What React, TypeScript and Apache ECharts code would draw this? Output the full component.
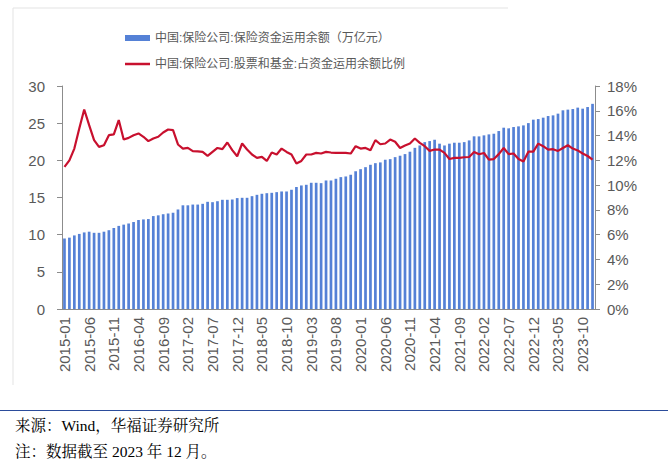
import { useEffect, useRef } from "react";
import * as echarts from "echarts";

// Monthly categories 2015-01 .. 2023-12
const years = [2015, 2016, 2017, 2018, 2019, 2020, 2021, 2022, 2023];
const monthNums = ["01", "02", "03", "04", "05", "06", "07", "08", "09", "10", "11", "12"];
const categories: string[] = years.flatMap((y) => monthNums.map((m) => `${y}-${m}`));

const barName = "中国:保险公司:保险资金运用余额（万亿元）";
const lineName = "中国:保险公司:股票和基金:占资金运用余额比例";

// 保险资金运用余额（万亿元）
const fundBalance = [
  9.5, 9.6, 9.9, 10.1, 10.3, 10.4, 10.25, 10.25, 10.4, 10.6, 10.9, 11.18,
  11.35, 11.5, 11.7, 11.97, 12.05, 12.1, 12.5, 12.6, 12.75, 12.85, 12.95, 13.39,
  13.95, 13.95, 14.05, 14.05, 14.15, 14.42, 14.37, 14.5, 14.69, 14.69, 14.73, 14.92,
  14.96, 14.96, 15.18, 15.36, 15.5, 15.58, 15.63, 15.72, 15.81, 15.81, 16.04, 16.41,
  16.62, 16.71, 16.98, 16.98, 16.93, 17.29, 17.29, 17.52, 17.74, 17.83, 18.06, 18.53,
  18.81, 19.08, 19.4, 19.62, 19.72, 20.08, 20.16, 20.43, 20.62, 20.84, 21.16, 21.68,
  22.0, 22.45, 22.59, 22.77, 22.24, 22.0, 22.24, 22.37, 22.37, 22.45, 22.68, 23.23,
  23.22, 23.36, 23.49, 23.58, 23.94, 24.39, 24.3, 24.48, 24.57, 24.7, 25.01, 25.47,
  25.55, 25.74, 25.96, 26.05, 26.28, 26.73, 26.82, 26.9, 27.09, 26.95, 27.17, 27.6,
];

// 股票和基金占资金运用余额比例（%）
const stockFundRatio = [
  11.47, 12.0, 12.95, 14.57, 16.1, 14.84, 13.63, 13.09, 13.22, 14.03, 14.09, 15.25,
  13.68, 13.81, 14.03, 14.17, 13.9, 13.55, 13.76, 13.9, 14.25, 14.49, 14.44, 13.28,
  12.95, 13.0, 12.74, 12.72, 12.68, 12.36, 12.68, 13.0, 12.9, 13.44, 12.82, 12.33,
  13.36, 12.87, 12.47, 12.2, 12.28, 11.95, 12.63, 12.47, 12.95, 12.68, 12.47, 11.74,
  11.95, 12.47, 12.47, 12.6, 12.55, 12.68, 12.63, 12.6, 12.6, 12.6, 12.55, 13.14,
  12.95, 13.0, 12.82, 13.63, 13.3, 13.36, 13.68, 13.5, 13.0, 13.2, 13.36, 13.76,
  13.41, 13.14, 12.76, 12.87, 12.87, 12.6, 12.11, 12.2, 12.2, 12.25, 12.27, 12.68,
  12.49, 12.59, 12.05, 12.1, 12.5, 13.0, 12.5, 12.55, 12.1, 11.9, 12.7, 12.7,
  13.35, 13.14, 12.86, 12.9, 12.76, 13.0, 13.22, 12.95, 12.8, 12.55, 12.35, 12.05,
];

const footerSource = "来源：Wind，华福证券研究所";
const footerNote = "注：数据截至 2023 年 12 月。";

const sansFont = "'Liberation Sans', Arial, 'Noto Sans CJK SC', sans-serif";
const serifFont = "'Liberation Serif', 'Noto Serif CJK SC', 'Noto Sans CJK SC', serif";
const axisTextColor = "#595959";
const axisLineColor = "#8c8c8c";

export default function App() {
  const ref = useRef<HTMLDivElement>(null);

  useEffect(() => {
    if (!ref.current) return;
    const chart = echarts.init(ref.current, undefined, { renderer: "svg" });
    chart.setOption({
      animation: false,
      backgroundColor: "#ffffff",
      legend: [
        {
          data: [{ name: barName, icon: "rect" }],
          left: 120,
          top: 27,
          itemWidth: 25,
          itemHeight: 6,
          itemGap: 4,
          textStyle: { color: axisTextColor, fontSize: 12, fontFamily: sansFont },
          selectedMode: false,
        },
        {
          data: [{ name: lineName, icon: "rect", itemStyle: { color: "#C8102E" } }],
          left: 120,
          top: 53,
          itemWidth: 25,
          itemHeight: 2.5,
          textStyle: { color: axisTextColor, fontSize: 12, fontFamily: sansFont },
          selectedMode: false,
        },
      ],
      grid: { left: 62, right: 73, top: 86, bottom: 159, containLabel: false },
      xAxis: {
        type: "category",
        data: categories,
        boundaryGap: true,
        axisLine: { lineStyle: { color: axisLineColor, width: 1 } },
        axisTick: { alignWithLabel: true, interval: 4, length: 5, lineStyle: { color: axisLineColor } },
        axisLabel: {
          interval: 4,
          rotate: 90,
          color: axisTextColor,
          fontSize: 15,
          fontFamily: sansFont,
          margin: 8,
        },
      },
      yAxis: [
        {
          type: "value",
          min: 0,
          max: 30,
          interval: 5,
          position: "left",
          splitLine: { show: false },
          axisLine: { show: true, lineStyle: { color: axisLineColor } },
          axisTick: { show: true, length: 5, lineStyle: { color: axisLineColor } },
          axisLabel: { color: axisTextColor, fontSize: 15, fontFamily: sansFont, margin: 17 },
        },
        {
          type: "value",
          min: 0,
          max: 18,
          interval: 2,
          position: "right",
          splitLine: { show: false },
          axisLine: { show: true, lineStyle: { color: axisLineColor } },
          axisTick: { show: true, length: 5, lineStyle: { color: axisLineColor } },
          axisLabel: {
            color: axisTextColor,
            fontSize: 15,
            fontFamily: sansFont,
            margin: 12,
            formatter: "{value}%",
          },
        },
      ],
      series: [
        {
          name: barName,
          type: "bar",
          data: fundBalance,
          yAxisIndex: 0,
          barWidth: 2.7,
          itemStyle: { color: "#5581D6" },
        },
        {
          name: lineName,
          type: "line",
          data: stockFundRatio,
          yAxisIndex: 1,
          showSymbol: false,
          symbol: "none",
          lineStyle: { color: "#C8102E", width: 2.2 },
          itemStyle: { color: "#C8102E" },
          z: 5,
        },
      ],
      graphic: [
        { type: "line", shape: { x1: 13, y1: 8, x2: 508, y2: 8 }, style: { stroke: "#e3e3e3", lineWidth: 1 } },
        { type: "line", shape: { x1: 13, y1: 8, x2: 13, y2: 385 }, style: { stroke: "#e3e3e3", lineWidth: 1 } },
        { type: "line", shape: { x1: 0, y1: 410.5, x2: 668, y2: 410.5 }, style: { stroke: "#2B4C9B", lineWidth: 1.2 } },
        {
          type: "text",
          left: 15,
          top: 418,
          style: { text: footerSource, fontSize: 15.5, fontFamily: serifFont, fill: "#000000" },
        },
        {
          type: "text",
          left: 15,
          top: 444,
          style: { text: footerNote, fontSize: 15.5, fontFamily: serifFont, fill: "#000000" },
        },
      ],
    });
    return () => chart.dispose();
  }, []);

  return (
    <div
      ref={ref}
      style={{ position: "absolute", left: 0, top: 0, width: 668, height: 468, background: "#fff" }}
    />
  );
}
